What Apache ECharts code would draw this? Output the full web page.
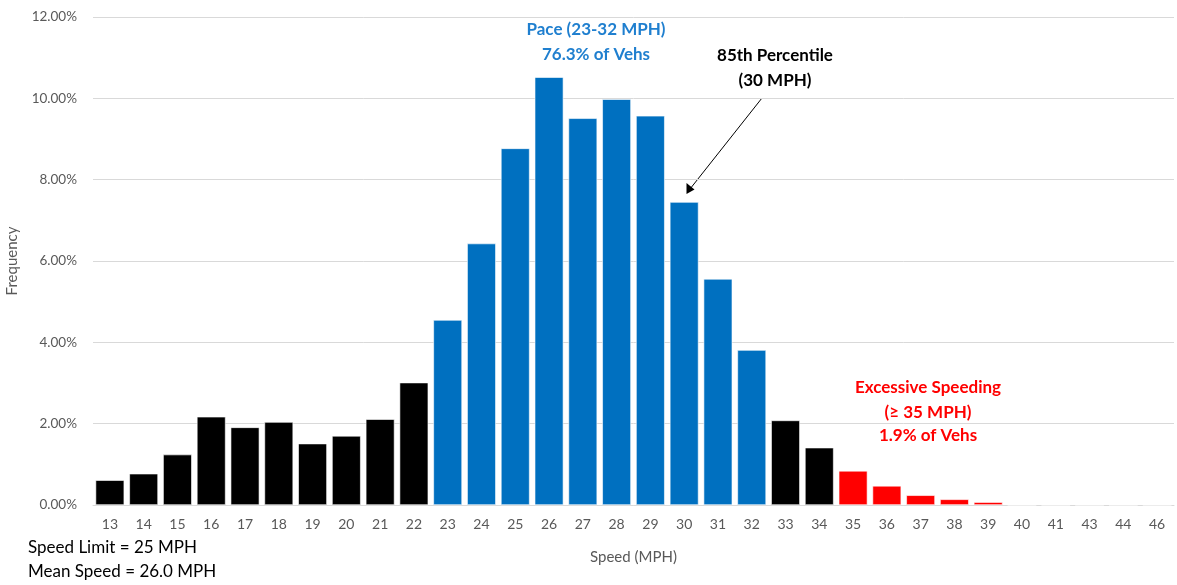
<!DOCTYPE html>
<html><head><meta charset="utf-8">
<script src="https://cdn.jsdelivr.net/npm/echarts@6/dist/echarts.min.js"></script>
<style>html,body{margin:0;padding:0;background:#fff}#c{width:1177px;height:585px}</style>
</head><body><div id="c"></div>
<script>
const speeds = ['13','14','15','16','17','18','19','20','21','22','23','24','25','26','27','28','29','30','31','32','33','34','35','36','37','38','39','40','41','43','44','46'];
const freq = [0.61,0.77,1.24,2.17,1.91,2.04,1.51,1.70,2.11,3.01,4.55,6.43,8.77,10.52,9.51,9.98,9.57,7.45,5.56,3.81,2.08,1.41,0.84,0.47,0.24,0.14,0.07,0,0,0,0,0];
const paceRange = [23, 32];
const excessiveMin = 35;
const yTicks = {min: 0, max: 12, interval: 2};

const FONT = 'Lato, "Open Sans", sans-serif';
const chart = echarts.init(document.getElementById('c'));
function barColor(p) {
  const s = Number(speeds[p.dataIndex]);
  if (s >= paceRange[0] && s <= paceRange[1]) return '#0070C0';
  if (s >= excessiveMin) return '#FF0000';
  return '#000000';
}
const ann = (x, y, text, fill, size, bold) => ({
  type: 'text', x: x, y: y,
  style: {text: text, fill: fill, font: (bold ? 'bold ' : '') + size + 'px ' + FONT,
    align: bold ? 'center' : 'left', verticalAlign: 'middle'}
});
chart.setOption({
  animation: false,
  textStyle: {fontFamily: FONT},
  grid: {left: 93, right: 3, top: 17, bottom: 80, outerBoundsMode: 'none', containLabel: false},
  xAxis: {
    type: 'category', data: speeds,
    axisTick: {show: false},
    axisLine: {lineStyle: {color: '#d9d9d9'}},
    axisLabel: {color: '#595959', fontSize: 14, margin: 12, fontFamily: FONT},
    name: 'Speed (MPH)', nameLocation: 'middle', nameGap: 45,
    nameTextStyle: {color: '#595959', fontSize: 15, fontFamily: FONT}
  },
  yAxis: {
    type: 'value', min: yTicks.min, max: yTicks.max, interval: yTicks.interval,
    axisLabel: {color: '#595959', fontSize: 13.5, margin: 16, fontFamily: FONT,
      formatter: v => v.toFixed(2) + '%'},
    splitLine: {lineStyle: {color: '#d9d9d9'}},
    name: 'Frequency', nameLocation: 'middle', nameGap: 73,
    nameTextStyle: {color: '#595959', fontSize: 15, fontFamily: FONT}
  },
  series: [{
    type: 'bar', data: freq, barCategoryGap: '15%',
    itemStyle: {color: barColor, borderColor: '#ffffff', borderWidth: 0.6}
  }],
  graphic: [
    ann(596, 30, 'Pace (23-32 MPH)', '#1F7FCF', 17, true),
    ann(596, 55, '76.3% of Vehs', '#1F7FCF', 17, true),
    ann(775, 56, '85th Percentile', '#000', 17, true),
    ann(775, 81, '(30 MPH)', '#000', 17, true),
    {type: 'line', shape: {x1: 762, y1: 98, x2: 690, y2: 189}, style: {stroke: '#000', lineWidth: 1}},
    {type: 'polygon', shape: {points: [[686.5, 194], [686.5, 183], [694.5, 189.5]]}, style: {fill: '#000'}},
    ann(928, 388, 'Excessive Speeding', '#FF0000', 17, true),
    ann(928, 413, '(≥ 35 MPH)', '#FF0000', 17, true),
    ann(928, 436, '1.9% of Vehs', '#FF0000', 17, true),
    ann(28, 548, 'Speed Limit = 25 MPH', '#000', 17, false),
    ann(28, 572, 'Mean Speed = 26.0 MPH', '#000', 17, false)
  ]
});
</script></body></html>
